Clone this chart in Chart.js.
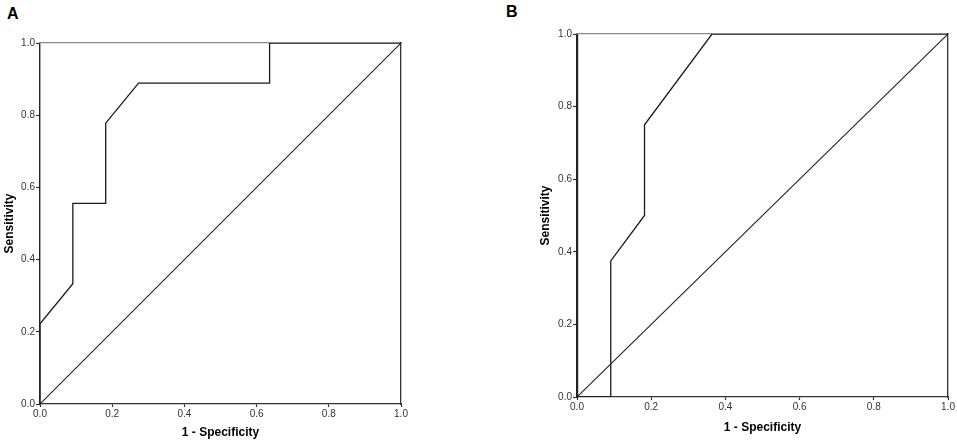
<!DOCTYPE html>
<html>
<head>
<meta charset="utf-8">
<script src="https://cdn.jsdelivr.net/npm/chart.js@4.4.0/dist/chart.umd.min.js"></script>
<style>
  html, body { margin: 0; padding: 0; background: #fff; }
  body { width: 957px; height: 444px; position: relative; overflow: hidden; font-family: "Liberation Sans", Arial, sans-serif; }
  .panel { position: absolute; }
  .letter { position: absolute; font: bold 16px "Liberation Sans", Arial, sans-serif; color: #000; }
</style>
</head>
<body>
<div class="letter" style="left:7px; top:5px;">A</div>
<div class="letter" style="left:506px; top:3px;">B</div>
<div class="panel" style="left:0px; top:0px; width:420px; height:444px;"><canvas id="chartA"></canvas></div>
<div class="panel" style="left:536px; top:0px; width:421px; height:439px;"><canvas id="chartB"></canvas></div>
<script>
// Axis ticks
const tickValues = [0, 0.2, 0.4, 0.6, 0.8, 1.0];
const xAxisTitle = "1 - Specificity";
const yAxisTitle = "Sensitivity";

// Panel A ROC curve
const rocA_fpr = [0, 0, 0.091, 0.091, 0.182, 0.182, 0.273, 0.636, 0.636, 1];
const rocA_tpr = [0, 0.222, 0.333, 0.556, 0.556, 0.778, 0.889, 0.889, 1, 1];

// Panel B ROC curve
const rocB_fpr = [0, 0.091, 0.091, 0.182, 0.182, 0.364, 1];
const rocB_tpr = [0, 0, 0.375, 0.5, 0.75, 1, 1];

// Reference line
const refX = [0, 1];
const refY = [0, 1];

function pts(xs, ys) { return xs.map((x, i) => ({ x: x, y: ys[i] })); }

function makeConfig(fpr, tpr, layout) {
  const tickFont = { family: "Liberation Sans, Arial, sans-serif", size: 10 };
  const titleFont = { family: "Liberation Sans, Arial, sans-serif", size: 12, weight: "bold" };
  return {
    type: "scatter",
    data: {
      datasets: [
        { data: pts(fpr, tpr), showLine: true, borderColor: "#1a1a1a", borderWidth: 1.3, pointRadius: 0, fill: false, tension: 0, order: 1 },
        { data: pts(refX, refY), showLine: true, borderColor: "#222", borderWidth: 1.1, pointRadius: 0, fill: false, tension: 0, order: 2 }
      ]
    },
    options: {
      responsive: true,
      maintainAspectRatio: false,
      animation: false,
      events: [],
      layout: { padding: { top: layout.top, right: layout.right, left: 0, bottom: 0 } },
      plugins: { legend: { display: false }, tooltip: { enabled: false } },
      scales: {
        x: {
          type: "linear", position: "bottom", min: 0, max: 1,
          afterBuildTicks: (s) => { s.ticks = tickValues.map(v => ({ value: v })); },
          afterFit: (s) => { s.height = layout.xh; },
          ticks: { font: tickFont, color: "#333", padding: 1, maxRotation: 0, callback: (v) => Number(v).toFixed(1) },
          grid: { drawOnChartArea: false, drawTicks: true, tickLength: 3, tickColor: "#333", tickWidth: 1.2 },
          border: { display: true, color: "#333", width: 1.3 },
          title: { display: true, text: xAxisTitle, font: titleFont, color: "#000", padding: { top: 0, bottom: 4 } }
        },
        y: {
          type: "linear", position: "left", min: 0, max: 1,
          afterBuildTicks: (s) => { s.ticks = tickValues.map(v => ({ value: v })); },
          afterFit: (s) => { s.width = layout.yw; },
          ticks: { font: tickFont, color: "#333", padding: 1, callback: (v) => Number(v).toFixed(1) },
          grid: { drawOnChartArea: false, drawTicks: true, tickLength: 4, tickColor: "#333", tickWidth: 1.2 },
          border: { display: true, color: "#222", width: layout.yBorder },
          title: { display: true, text: yAxisTitle, font: titleFont, color: "#000", padding: { top: 2, bottom: 0 } }
        },
        xTop: {
          type: "linear", position: "top", min: 0, max: 1,
          ticks: { display: false },
          grid: { display: false, drawTicks: false },
          border: { display: true, color: "#8a8a8a", width: 1.2 }
        },
        yRight: {
          type: "linear", position: "right", min: 0, max: 1,
          ticks: { display: false },
          grid: { display: false, drawTicks: false },
          border: { display: true, color: "#333", width: 1.3 }
        }
      }
    }
  };
}

new Chart(document.getElementById("chartA"), makeConfig(rocA_fpr, rocA_tpr, { top: 43, right: 19, xh: 40, yw: 40, yBorder: 1.4 }));
new Chart(document.getElementById("chartB"), makeConfig(rocB_fpr, rocB_tpr, { top: 34, right: 9, xh: 42, yw: 41, yBorder: 2.2 }));
</script>
</body>
</html>
